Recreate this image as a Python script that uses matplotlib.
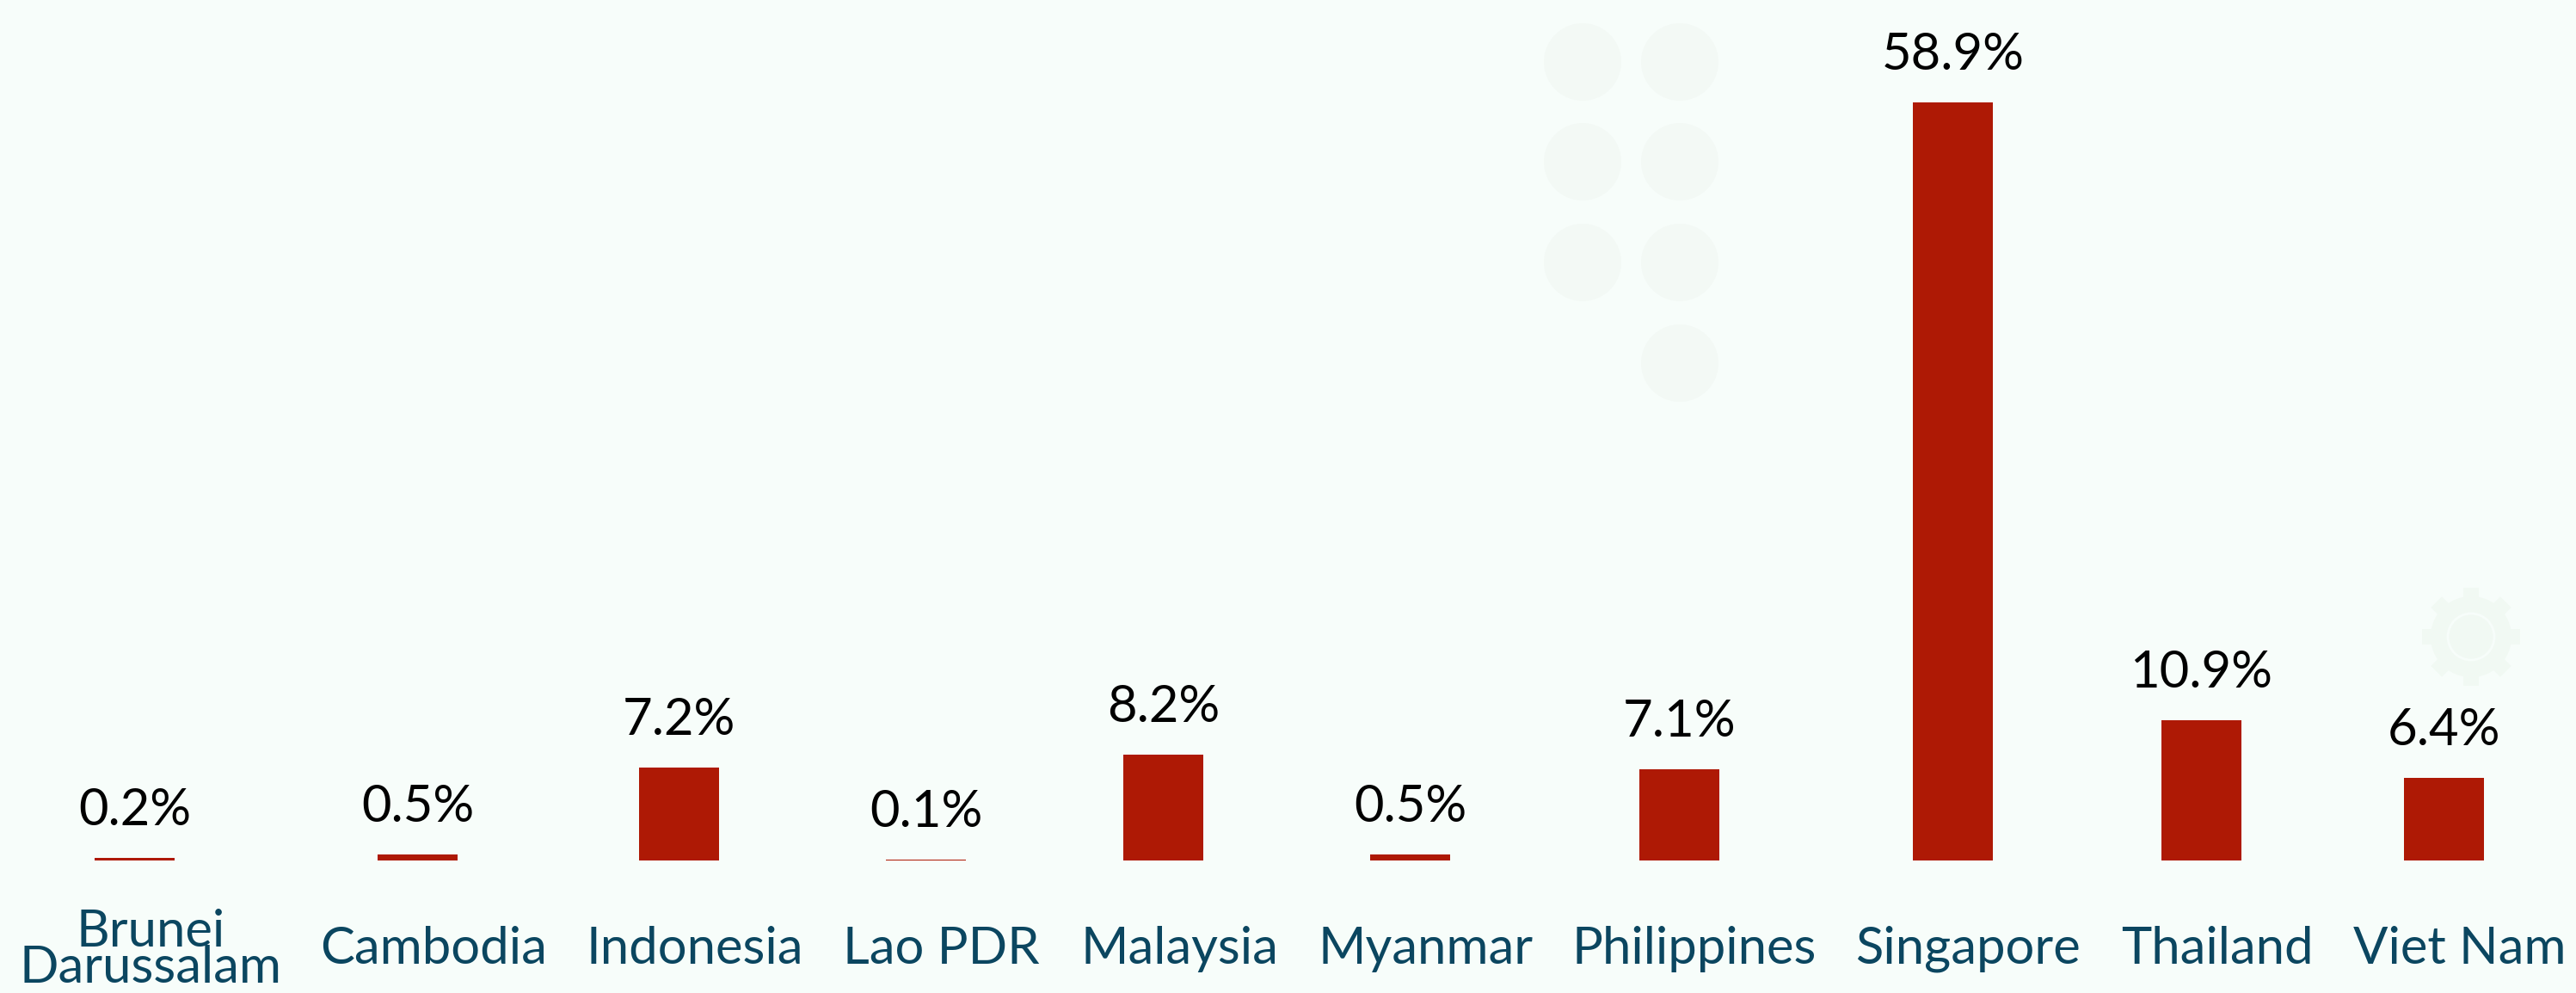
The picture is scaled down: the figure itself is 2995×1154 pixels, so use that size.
import numpy as np
import matplotlib
matplotlib.use("Agg")
import matplotlib.pyplot as plt
from matplotlib.patches import Circle, Rectangle
from matplotlib import transforms as mtrans

# ---- data ----
countries = ["Brunei\nDarussalam", "Cambodia", "Indonesia", "Lao PDR", "Malaysia",
             "Myanmar", "Philippines", "Singapore", "Thailand", "Viet Nam"]
shares = [0.2, 0.5, 7.2, 0.1, 8.2, 0.5, 7.1, 58.9, 10.9, 6.4]
value_labels = ["0.2%", "0.5%", "7.2%", "0.1%", "8.2%", "0.5%", "7.1%", "58.9%", "10.9%", "6.4%"]

# ---- style ----
W, H, DPI = 2995, 1154, 100
BG = "#F7FDFA"
BAR = "#AE1905"
LABEL_C = "#0B4660"
FONT = "Lato"

fig = plt.figure(figsize=(W / DPI, H / DPI), dpi=DPI, facecolor=BG)

# faint background decorations (dots + gear)
deco = "#F3F9F5"
def pix(x, y_top):
    return x / DPI, (H - y_top) / DPI
for (cx, cy) in [(1840, 72), (1953, 72), (1840, 188), (1953, 188), (1840, 305), (1953, 305), (1953, 422)]:
    fig.patches.append(Circle(pix(cx, cy), 0.45, transform=fig.dpi_scale_trans,
                              facecolor=deco, edgecolor="none", zorder=0))
gx, gy = pix(2873, 740)
gear = "#F1F9F3"
fig.patches.append(Circle((gx, gy), 0.47, transform=fig.dpi_scale_trans,
                          facecolor=gear, edgecolor="none", zorder=0))
for k in range(8):
    ang = k * 45
    tr = mtrans.Affine2D().rotate_deg_around(gx, gy, ang) + fig.dpi_scale_trans
    fig.patches.append(Rectangle((gx - 0.09, gy + 0.38), 0.18, 0.19, transform=tr,
                                 facecolor=gear, edgecolor="none", zorder=0))
fig.patches.append(Circle((gx, gy), 0.27, transform=fig.dpi_scale_trans,
                          facecolor="none", edgecolor=BG, linewidth=2.0, zorder=0))

# axes: value 0 at 154 px from bottom, max value at 119 px from top
ax = fig.add_axes([0, 154 / H, 1, (H - 154 - 119) / H])
ax.set_facecolor("none")
ax.set_xlim(0, W)
ax.set_ylim(0, max(shares))
ax.axis("off")

# category labels, laid out by their own widths (flex-like row)
lab_tr = mtrans.blended_transform_factory(ax.transData, fig.transFigure)
texts = []
for c in countries:
    t = ax.text(0, 34 / H, c, transform=lab_tr, ha="center", va="baseline",
                fontsize=43, family=FONT, color=LABEL_C, linespacing=0.72,
                multialignment="center", clip_on=False)
    texts.append(t)
fig.canvas.draw()
r = fig.canvas.get_renderer()
widths = np.array([t.get_window_extent(r).width for t in texts])
gap = 60.0
left, right = 29.0, 2978.0
raw = np.concatenate([[0], np.cumsum(widths[:-1] + gap)]) + widths / 2
scale = (right - left) / (widths.sum() + gap * (len(widths) - 1))
centers = left + raw * scale
for t, cx in zip(texts, centers):
    t.set_x(cx)
# two-line label: its last line sits near the bottom edge
texts[0].set_y(12 / H)
bar_x = centers - 18

ax.bar(bar_x, shares, width=93, color=BAR, edgecolor="none")
for x, v, s in zip(bar_x, shares, value_labels):
    ax.annotate(s, (x, v), xytext=(0, 38 * 72 / DPI), textcoords="offset points",
                ha="center", va="baseline", fontsize=43, family=FONT, color="black",
                annotation_clip=False)

fig.savefig("out.png", dpi=DPI, facecolor=BG)
